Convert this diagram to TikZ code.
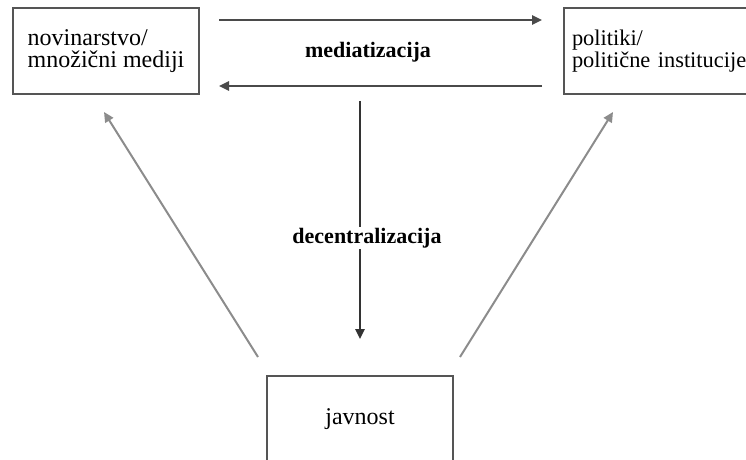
\documentclass[tikz,border=0pt]{standalone}
\usepackage{fontspec}
\setmainfont{Liberation Serif}
\usepackage{tikz}
\usetikzlibrary{positioning}
\usetikzlibrary{calc}
\usetikzlibrary{arrows.meta}
\definecolor{boxgray}{HTML}{555555}
\definecolor{arrgray}{HTML}{4A4A4A}
\definecolor{diaggray}{HTML}{8C8C8C}
\tikzset{box/.style={draw=boxgray,line width=1.5pt,minimum width=139.5pt,minimum height=64.5pt,font=\fontsize{18}{16.5}\selectfont,align=left},
lbl/.style={font=\fontsize{16.5}{18}\selectfont\bfseries},
arr/.style={-{Triangle[length=7.5pt,width=7pt]},line width=1.5pt,draw=arrgray}}

\begin{document}
\begin{tikzpicture}[x=0.75pt,y=-0.75pt]
\useasboundingbox (0,0) rectangle (746,460);
\node[box] (media) at (106,51) {novinarstvo/\\množični mediji};
\node[box,anchor=west,text width=160pt,inner xsep=6pt,font=\fontsize{16.8}{16.5}\selectfont] (politics) at (563,51) {politiki/\\politične institucije};
\node[box] (public) at (360,419) {javnost};
\draw[arr,shorten <=14.25pt,shorten >=15.75pt] ([yshift=23.25pt]media.east) -- ([yshift=23.25pt]politics.west);
\draw[arr,shorten <=15.75pt,shorten >=14.25pt] ([yshift=-26.25pt]politics.west) -- ([yshift=-26.25pt]media.east);
\node[lbl] (medlbl) at (368,52) {mediatizacija};
\draw[arr,draw=black!80,shorten <=4.5pt,shorten >=27pt] (media.south -| public.north) -- (public.north);
\node[lbl,fill=white,inner sep=1pt] (declbl) at (367,238) {decentralizacija};
% public -> media and politics
\coordinate (lfoot) at (258,357);
\coordinate (ltip) at (104,112);
\coordinate (rfoot) at (460,357);
\coordinate (rtip) at (613,112);
\draw[arr,draw=diaggray] (lfoot) -- (ltip);
\draw[arr,draw=diaggray] (rfoot) -- (rtip);
\end{tikzpicture}
\end{document}
